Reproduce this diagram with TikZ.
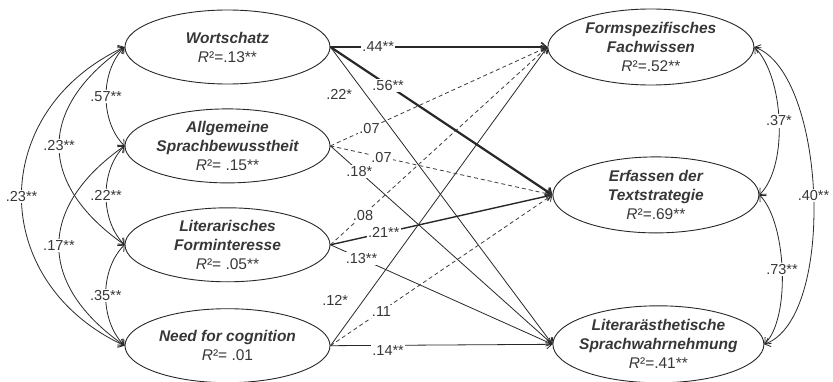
\documentclass[tikz,border=0pt]{standalone}
\usepackage{fontspec}
\setmainfont{Liberation Sans}
\usetikzlibrary{shapes.geometric,arrows.meta,positioning}
\definecolor{ink}{RGB}{40,40,40}
\definecolor{txt}{RGB}{55,55,55}

\begin{document}
\begin{tikzpicture}[
    x=1pt, y=1pt,
    latent/.style={ellipse, draw=ink, line width=0.9pt, minimum width=205pt,
                   minimum height=74pt, inner sep=0pt},
    nm/.style={text=txt, align=center, font=\fontsize{15.5}{19}\selectfont},
    coef/.style={fill=white, inner sep=1.5pt, text=txt,
                 font=\fontsize{14.5}{17}\selectfont},
    reg/.style={-{Straight Barb[length=5pt,width=9pt]}, ink, line width=0.8pt},
    regns/.style={reg, ink!90, dash pattern=on 4pt off 3pt},
    cov/.style={{Straight Barb[length=5pt,width=9pt]}-{Straight Barb[length=5pt,width=9pt]},
                ink, line width=0.8pt}
]
\useasboundingbox (0,0) rectangle (833,381);

% Predictors
\node[latent, label={[nm]center:{\bfseries\itshape Wortschatz}\\{\itshape R}²=.13**}]
    (wort) at (227.5,334) {};
\node[latent, below=24pt of wort,
      label={[nm]center:{\bfseries\itshape Allgemeine}\\{\bfseries\itshape Sprachbewusstheit}\\{\itshape R}²= .15**}]
    (allg) {};
\node[latent, below=24pt of allg,
      label={[nm]center:{\bfseries\itshape Literarisches}\\{\bfseries\itshape Forminteresse}\\{\itshape R}²= .05**}]
    (lit) {};
\node[latent, below=26pt of lit,
      label={[nm]center:{\bfseries\itshape Need for cognition}\\{\itshape R}²= .01}]
    (need) {};

% Outcomes
\node[latent, minimum width=206pt, minimum height=76pt, right=217pt of wort,
      label={[nm]center:{\bfseries\itshape Formspezifisches}\\{\bfseries\itshape Fachwissen}\\{\itshape R}²=.52**}]
    (form) {};
\node[latent, minimum width=206pt, minimum height=76pt, below=71pt of form, xshift=5pt,
      label={[nm]center:{\bfseries\itshape Erfassen der}\\{\bfseries\itshape Textstrategie}\\{\itshape R}²=.69**}]
    (erf) {};
\node[latent, minimum width=211pt, minimum height=77pt, below=72pt of erf, xshift=2.5pt,
      label={[nm]center:{\bfseries\itshape Literarästhetische}\\{\bfseries\itshape Sprachwahrnehmung}\\{\itshape R}²=.41**}]
    (lsw) {};

% Paths
\draw[reg, line width=1.6pt] (wort.east) -- node[coef, pos=0.22] {.44**} (form.west);
\draw[reg, line width=2.2pt] (wort.east) -- node[coef, pos=0.26] {.56**} (erf.west);
\draw[reg] (wort.east) -- node[coef, pos=0.16, left=12pt] {.22*} (lsw.west);
\draw[regns] (allg.east) -- node[coef, pos=0.18] {.07} (form.west);
\draw[regns] (allg.east) -- node[coef, pos=0.23] {.07} (erf.west);
\draw[reg] (allg.east) -- node[coef, pos=0.13] {.18*} (lsw.west);
\draw[regns] (lit.east) -- node[coef, pos=0.15] {.08} (form.west);
\draw[reg, line width=1.4pt] (lit.east) -- node[coef, pos=0.24] {.21**} (erf.west);
\draw[reg] (lit.east) -- node[coef, pos=0.14] {.13**} (lsw.west);
\draw[reg] (need.east) -- node[coef, pos=0.15, left=13pt] {.12*} (form.west);
\draw[regns] (need.east) -- node[coef, pos=0.23] {.11} (erf.west);
\draw[reg] (need.east) -- node[coef, pos=0.26, yshift=-5pt] {.14**} (lsw.west);

% Correlations among predictors
\draw[cov] (wort.west) to[out=225, in=135, looseness=0.9] node[coef] {.57**} (allg.west);
\draw[cov] (wort.west) to[out=215, in=145, looseness=1.38] node[coef] {.23**} (lit.west);
\draw[cov] (wort.west) to[out=205, in=155, looseness=1.3] node[coef] {.23**} (need.west);
\draw[cov] (allg.west) to[out=225, in=135, looseness=0.9] node[coef] {.22**} (lit.west);
\draw[cov] (allg.west) to[out=215, in=145, looseness=1.37] node[coef] {.17**} (need.west);
\draw[cov] (lit.west) to[out=225, in=135, looseness=0.9] node[coef] {.35**} (need.west);

% Residual correlations among outcomes
\draw[cov] (form.east) to[out=-45, in=45, looseness=0.72] node[coef] {.37*} (erf.east);
\draw[cov] (erf.east) to[out=-45, in=45, looseness=0.65] node[coef] {.73**} (lsw.east);
\draw[cov] (form.east) to[out=-20, in=20, looseness=0.66] node[coef] {.40**} (lsw.east);
\end{tikzpicture}
\end{document}
